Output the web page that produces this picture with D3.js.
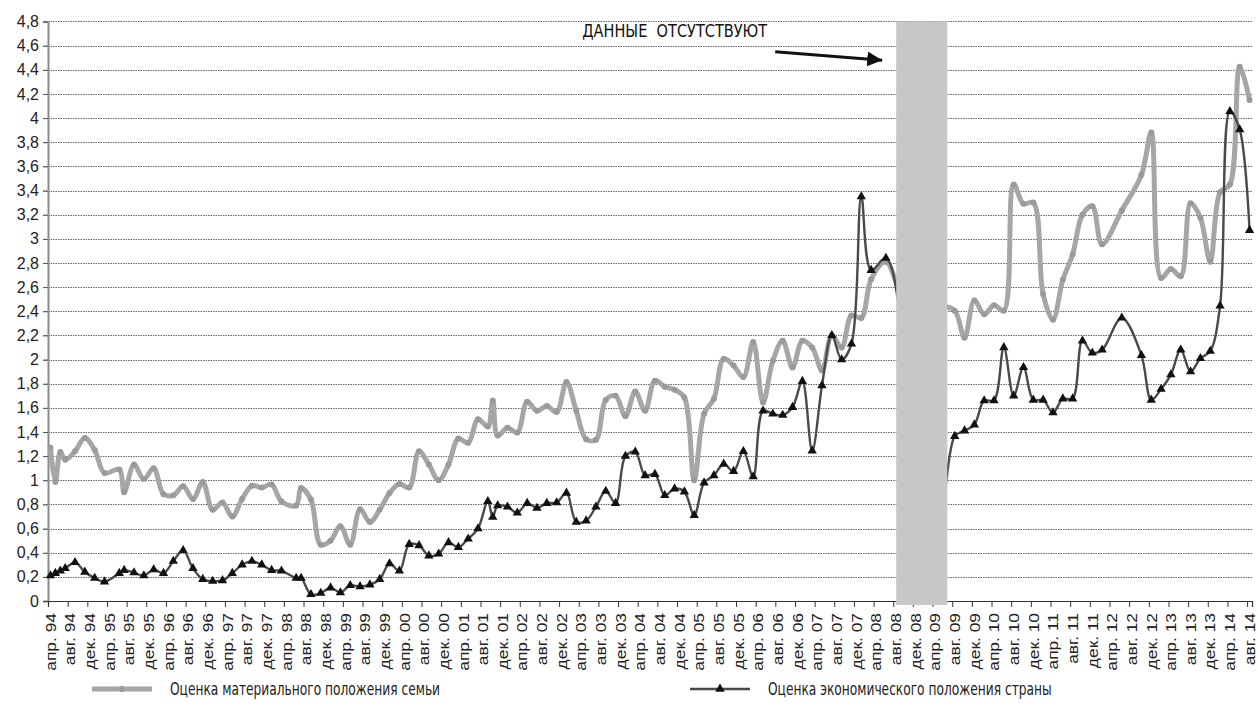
<!DOCTYPE html>
<html>
<head>
<meta charset="UTF-8">
<title>Оценка материального и экономического положения</title>
<script src="https://cdn.jsdelivr.net/npm/d3@7"></script>
<style>
  body { margin: 0; background: #fff; }
  svg { display: block; font-family: "Liberation Sans", Arial, sans-serif; }
  .narrow { font-family: "Liberation Sans Narrow", "DejaVu Sans Condensed", sans-serif; }
</style>
</head>
<body>
<svg width="1258" height="716"></svg>
<script>
// month number counted from апр. 1994 (0 = апр. 94, 244 = авг. 14)
const months = [
  0, 1, 2, 3, 5, 7, 9, 11, 14, 15,
  17, 19, 21, 23, 25, 27, 29, 31, 33, 35,
  37, 39, 41, 43, 45, 47, 50, 51, 53, 55,
  57, 59, 61, 63, 65, 67, 69, 71, 73, 75,
  77, 79, 81, 83, 85, 87, 89, 90, 91, 93,
  95, 97, 99, 101, 103, 105, 107, 109, 111, 113,
  115, 117, 119, 121, 123, 125, 127, 129, 131, 133,
  135, 137, 139, 141, 143, 145, 147, 149, 151, 153,
  155, 157, 159, 161, 163, 165, 167, 170, 174, 181,
  184, 186, 188, 190, 192, 194, 196, 198, 200, 202,
  204, 206, 208, 210, 212, 214, 218, 222, 224, 226,
  228, 230, 232, 234, 236, 238, 240, 242, 244
];

// Оценка материального положения семьи
const family = [
  1.27, 0.985, 1.235, 1.17, 1.24, 1.35, 1.25, 1.06, 1.09, 0.90,
  1.13, 1.01, 1.10, 0.885, 0.875, 0.95, 0.845, 0.985, 0.755, 0.815,
  0.70, 0.845, 0.955, 0.94, 0.965, 0.825, 0.79, 0.935, 0.84, 0.465,
  0.50, 0.62, 0.465, 0.76, 0.655, 0.755, 0.895, 0.97, 0.94, 1.24,
  1.13, 1.00, 1.13, 1.345, 1.31, 1.505, 1.445, 1.66, 1.37, 1.435,
  1.395, 1.65, 1.575, 1.615, 1.565, 1.815, 1.575, 1.34, 1.335, 1.665,
  1.70, 1.53, 1.735, 1.575, 1.825, 1.775, 1.75, 1.685, 1.00, 1.55,
  1.675, 2.005, 1.95, 1.855, 2.145, 1.645, 1.99, 2.155, 1.935, 2.155,
  2.10, 1.91, 2.20, 2.10, 2.365, 2.345, 2.665, 2.81, 2.5, 2.45,
  2.405, 2.18, 2.49, 2.375, 2.45, 2.405, 3.45, 3.29, 3.30, 2.54,
  2.33, 2.66, 2.87, 3.20, 3.27, 2.955, 3.235, 3.53, 3.88, 2.675,
  2.75, 2.69, 3.295, 3.175, 2.81, 3.385, 3.45, 4.425, 4.15
];

// Оценка экономического положения страны
const economy = [
  0.21, 0.23, 0.25, 0.27, 0.32, 0.24, 0.19, 0.16, 0.23, 0.255,
  0.235, 0.21, 0.26, 0.23, 0.33, 0.42, 0.27, 0.18, 0.165, 0.17,
  0.23, 0.30, 0.33, 0.30, 0.255, 0.25, 0.19, 0.19, 0.055, 0.065,
  0.11, 0.07, 0.13, 0.12, 0.135, 0.18, 0.31, 0.25, 0.47, 0.46,
  0.375, 0.39, 0.485, 0.445, 0.515, 0.60, 0.825, 0.695, 0.79, 0.78,
  0.73, 0.81, 0.77, 0.81, 0.815, 0.895, 0.655, 0.665, 0.78, 0.91,
  0.81, 1.20, 1.235, 1.04, 1.05, 0.875, 0.93, 0.905, 0.71, 0.98,
  1.04, 1.135, 1.075, 1.24, 1.03, 1.575, 1.55, 1.54, 1.605, 1.82,
  1.245, 1.785, 2.2, 2.0, 2.13, 3.35, 2.74, 2.84, 2.1, 0.75,
  1.365, 1.41, 1.46, 1.66, 1.66, 2.10, 1.70, 1.935, 1.665, 1.665,
  1.56, 1.675, 1.675, 2.155, 2.055, 2.08, 2.345, 2.035, 1.665, 1.755,
  1.875, 2.08, 1.90, 2.01, 2.07, 2.445, 4.055, 3.905, 3.07
];

const monthNames = ["янв.", "фев.", "мар.", "апр.", "май", "июн.", "июл.", "авг.", "сен.", "окт.", "ноя.", "дек."];
const firstYear = 1994, firstMonth = 3; // апр.
const monthCount = 245;
const labelStep = 4;
const yTicks = d3.range(0, 4.81, 0.2);
// период без данных (в месяцах от апр. 94)
const gapFrom = 172.6, gapTo = 183;
const seriesNames = ["Оценка материального положения семьи", "Оценка экономического положения страны"];

let svg = d3.select("svg");
let margin = {left: 48, right: 6, top: 21.5, bottom: 115};
let width = +svg.attr("width");
let height = +svg.attr("height");

let x = d3.scaleLinear().domain([0, monthCount]).range([margin.left, width - margin.right]);
let y = d3.scaleLinear().domain([0, 4.8]).range([height - margin.bottom, margin.top]);

function monthLabel(m) {
  let k = firstMonth + m;
  let yy = (firstYear + Math.floor(k / 12)) % 100;
  return monthNames[k % 12] + " " + String(yy).padStart(2, "0");
}
let fmt = d => String(Math.round(d * 10) / 10).replace(".", ",");

// grid
svg.append("g")
  .selectAll("line")
  .data(yTicks.filter(d => d > 0))
  .enter()
  .append("line")
  .attr("x1", margin.left - 5)
  .attr("x2", width - margin.right)
  .attr("y1", d => Math.round(y(d)) + 0.5)
  .attr("y2", d => Math.round(y(d)) + 0.5)
  .attr("stroke", "#666")
  .attr("stroke-width", 1)
  .attr("stroke-dasharray", "1.5,1");

// y axis
let yAxis = svg.append("g")
  .attr("transform", `translate(${margin.left},0)`)
  .call(d3.axisLeft(y).tickValues(yTicks).tickFormat(fmt).tickSize(5).tickPadding(4));
yAxis.select(".domain").attr("stroke", "#8a8a8a").attr("stroke-width", 2);
yAxis.selectAll(".tick line").attr("stroke", "#555");
yAxis.selectAll("text").attr("font-size", 16).attr("fill", "#222");

// x axis
let tickMonths = d3.range(0, monthCount, labelStep);
let xAxis = svg.append("g")
  .attr("transform", `translate(0,${y(0)})`)
  .call(d3.axisBottom(x).tickValues(tickMonths).tickSize(6).tickFormat(""));
xAxis.select(".domain").attr("stroke", "#333").attr("stroke-width", 1.2);
xAxis.selectAll(".tick line").attr("stroke", "#333");

svg.append("g")
  .selectAll("text")
  .data(tickMonths)
  .enter()
  .append("text")
  .attr("transform", d => `translate(${x(d + 0.5)},${y(0) + 12}) rotate(-90) scale(1.16,1)`)
  .attr("dy", "0.35em")
  .attr("text-anchor", "end")
  .attr("font-size", 15)
  .attr("fill", "#222")
  .text(monthLabel);

// lines
let pts = (vals) => months.map((m, i) => [m, vals[i]]);
let line = d3.line()
  .x(d => x(d[0] + 0.5))
  .y(d => y(d[1]))
  .curve(d3.curveCatmullRom);

svg.append("path")
  .datum(pts(family))
  .attr("d", line)
  .attr("fill", "none")
  .attr("stroke", "#a6a6a6")
  .attr("stroke-width", 5)
  .attr("stroke-linejoin", "round");

svg.append("g")
  .selectAll("circle")
  .data(pts(family))
  .enter()
  .append("circle")
  .attr("cx", d => x(d[0] + 0.5))
  .attr("cy", d => y(d[1]))
  .attr("r", 3)
  .attr("fill", "#9a9a9a");

svg.append("path")
  .datum(pts(economy))
  .attr("d", line)
  .attr("fill", "none")
  .attr("stroke", "#4a4a4a")
  .attr("stroke-width", 2.4)
  .attr("stroke-linejoin", "round");

let tri = d3.symbol(d3.symbolTriangle).size(38);
svg.append("g")
  .selectAll("path")
  .data(pts(economy))
  .enter()
  .append("path")
  .attr("d", tri)
  .attr("transform", d => `translate(${x(d[0] + 0.5)},${y(d[1])})`)
  .attr("fill", "#111");

// no-data band
svg.append("rect")
  .attr("x", x(gapFrom))
  .attr("width", x(gapTo) - x(gapFrom))
  .attr("y", y(4.8))
  .attr("height", y(0) - y(4.8) + 4)
  .attr("fill", "#c6c7c9");

// annotation
let ax = x(gapFrom);
svg.append("defs").append("marker")
  .attr("id", "head")
  .attr("viewBox", "0 0 10 10")
  .attr("refX", 10).attr("refY", 5)
  .attr("markerWidth", 5).attr("markerHeight", 5)
  .attr("markerUnits", "strokeWidth")
  .attr("orient", "auto")
  .append("path")
  .attr("d", "M0,0L10,5L0,10z")
  .attr("fill", "#111");

svg.append("line")
  .attr("x1", ax - 121).attr("y1", y(4.55))
  .attr("x2", ax - 14).attr("y2", y(4.48))
  .attr("stroke", "#111")
  .attr("stroke-width", 3)
  .attr("marker-end", "url(#head)");

svg.append("text")
  .attr("class", "narrow")
  .attr("transform", `translate(${ax - 314},${y(4.67)}) scale(0.95,1)`)
  .attr("font-size", 17)
  .attr("fill", "#111")
  .attr("xml:space", "preserve")
  .text("ДАННЫЕ  ОТСУТСТВУЮТ");

// legend
let legendY = 689;
let legend = [
  {x: 92, name: seriesNames[0], color: "#a6a6a6", w: 5, mark: "circle"},
  {x: 690, name: seriesNames[1], color: "#4a4a4a", w: 2.4, mark: "tri"}
];
let lg = svg.append("g").selectAll("g").data(legend).enter().append("g")
  .attr("transform", d => `translate(${d.x},${legendY})`);
lg.append("line")
  .attr("x1", 0).attr("x2", 60)
  .attr("stroke", d => d.color)
  .attr("stroke-width", d => d.w);
lg.filter(d => d.mark === "circle").append("circle")
  .attr("cx", 30).attr("r", 3).attr("fill", "#9a9a9a");
lg.filter(d => d.mark === "tri").append("path")
  .attr("d", tri).attr("transform", "translate(30,0)").attr("fill", "#111");
lg.append("text")
  .attr("class", "narrow")
  .attr("transform", "translate(78,0) scale(0.8,1)")
  .attr("dy", "0.35em")
  .attr("font-size", 17)
  .attr("fill", "#222")
  .text(d => d.name);
</script>
</body>
</html>
